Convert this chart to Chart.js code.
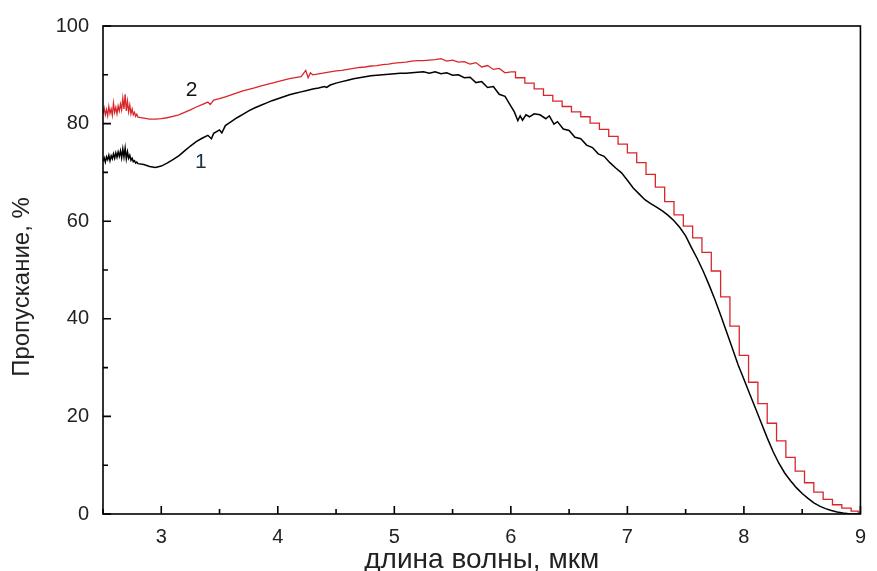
<!DOCTYPE html>
<html>
<head>
<meta charset="utf-8">
<script src="https://cdn.jsdelivr.net/npm/chart.js@4.4.1/dist/chart.umd.min.js"></script>
<style>
  html, body { margin: 0; padding: 0; background: #fff; }
</style>
</head>
<body>
<canvas id="canvas" width="877" height="571"></canvas>
<script>
// кривая 1 (чёрная): длина волны, мкм
var wave1 = [2.50,2.51,2.52,2.53,2.54,2.55,2.56,2.57,2.58,2.59,2.60,2.61,2.62,2.63,2.64,2.65,2.66,2.67,2.68,2.69,2.70,2.71,2.72,2.73,2.74,2.75,2.76,2.77,2.78,2.79,2.80,
  2.85,2.90,2.95,3.00,3.05,3.10,3.15,3.20,3.25,3.30,3.35,3.40,3.43,3.45,3.50,3.52,
  3.55,3.60,3.65,3.70,3.75,3.80,3.85,3.90,3.95,4.00,4.05,4.10,4.15,4.20,4.25,4.30,4.35,4.40,4.42,
  4.45,4.50,4.55,4.60,4.65,4.70,4.75,4.80,4.85,4.90,4.95,5.00,5.05,5.10,5.15,5.20,5.25,5.30,5.35,5.40,5.45,
  5.50,5.55,5.60,5.65,5.70,5.75,5.80,5.85,5.90,5.95,6.00,6.03,6.06,6.08,6.10,6.13,6.16,6.20,6.25,6.30,6.33,6.37,6.40,
  6.45,6.50,6.55,6.60,6.65,6.70,6.75,6.80,6.85,6.90,6.95,7.00,7.05,7.10,7.15,7.20,7.25,7.30,7.35,7.40,7.45,7.50,
  7.55,7.60,7.65,7.70,7.75,7.80,7.85,7.90,7.95,8.00,8.05,8.10,8.15,8.20,8.25,8.30,8.35,8.40,8.45,8.50,
  8.55,8.60,8.65,8.70,8.75,8.80,8.85,8.90,8.95,9.00];
// пропускание, %
var trans1 = [72.3,73.0,72.1,73.2,72.6,73.5,72.4,73.4,72.8,73.8,72.9,74.0,73.1,74.2,73.3,74.4,73.0,74.8,73.2,75.0,72.8,74.2,72.9,73.5,72.5,72.9,72.2,72.4,71.9,72.1,71.8,
  71.6,71.2,71.0,71.3,71.9,72.6,73.4,74.4,75.4,76.3,77.0,77.6,76.9,78.0,78.7,78.1,
  79.6,80.4,81.2,81.9,82.6,83.2,83.7,84.2,84.7,85.1,85.5,85.9,86.2,86.5,86.8,87.1,87.3,87.6,87.4,
  87.9,88.3,88.6,88.9,89.2,89.4,89.6,89.8,89.9,90.0,90.1,90.2,90.3,90.3,90.4,90.5,90.6,90.3,90.6,90.2,90.4,
  89.9,90.0,89.4,89.5,88.4,88.6,87.4,87.6,86.0,85.6,83.6,82.4,80.6,81.6,80.7,81.8,81.4,82.0,81.8,81.0,81.6,79.9,80.4,
  78.9,78.6,77.2,76.9,75.6,75.1,73.8,73.3,72.0,70.9,69.9,68.4,66.8,65.6,64.4,63.6,62.9,62.1,61.2,60.1,58.7,57.0,
  54.6,52.3,49.8,47.0,44.0,40.8,37.4,34.0,30.6,27.6,24.6,21.6,18.6,15.6,12.8,10.4,8.4,6.8,5.4,4.2,
  3.2,2.3,1.6,1.1,0.7,0.4,0.2,0.05,0,0];

// кривая 2 (красная)
var wave2 = [2.50,2.51,2.52,2.53,2.54,2.55,2.56,2.57,2.58,2.59,2.60,2.61,2.62,2.63,2.64,2.65,2.66,2.67,2.68,2.69,2.70,2.71,2.72,2.73,2.74,2.75,2.76,2.77,2.78,2.79,2.80,
  2.85,2.90,2.95,3.00,3.05,3.10,3.15,3.20,3.25,3.30,3.35,3.40,3.42,
  3.45,3.50,3.55,3.60,3.65,3.70,3.75,3.80,3.85,3.90,3.95,4.00,4.05,4.10,4.15,4.20,4.24,4.26,4.28,
  4.30,4.35,4.40,4.45,4.50,4.55,4.60,4.65,4.70,4.75,4.80,4.85,4.90,4.95,5.00,
  5.05,5.10,5.15,5.20,5.25,5.30,5.35,5.40,5.45,5.50,5.55,5.60,5.65,5.70,5.75,5.80,5.85,5.90,5.95,6.00,
  6.08,6.16,6.24,6.32,6.40,6.48,6.56,6.64,6.72,6.80,6.88,6.96,7.04,7.12,7.20,7.28,7.36,7.44,7.52,7.60,
  7.68,7.76,7.84,7.92,8.00,8.08,8.16,8.24,8.32,8.40,8.48,8.56,8.64,8.72,8.80,8.88,8.96,9.00];
var trans2 = [82.0,83.2,81.8,82.9,81.6,83.5,82.1,83.0,81.7,84.2,82.3,83.3,82.0,83.6,82.6,84.0,82.8,85.2,83.0,86.0,82.6,84.6,82.4,83.8,82.0,83.0,81.8,82.3,81.5,81.9,81.3,
  81.1,80.9,80.9,81.0,81.2,81.5,81.8,82.3,82.8,83.4,83.9,84.4,83.9,
  84.8,85.1,85.5,85.9,86.3,86.7,87.0,87.3,87.7,88.0,88.3,88.6,88.9,89.2,89.4,89.6,90.9,89.4,90.4,
  90.0,90.2,90.4,90.6,90.8,90.9,91.1,91.3,91.5,91.6,91.8,91.9,92.1,92.2,92.4,
  92.5,92.6,92.8,92.9,92.9,93.0,93.1,93.3,92.8,93.0,92.6,92.7,92.2,92.5,91.6,91.9,91.1,91.3,90.4,90.6,
  89.4,88.3,87.1,85.8,84.6,83.5,82.4,81.4,80.1,78.8,77.4,75.8,74.0,72.0,69.6,67.0,64.0,61.3,59.0,56.6,
  53.6,49.8,44.5,38.5,32.5,27.0,22.6,18.6,15.0,11.6,8.8,6.4,4.5,3.0,1.9,1.2,0.6,0.4];

// со скольки мкм у красной кривой идёт "лесенка"
var stepFrom = 6.0;

// подписи кривых
var curveLabels = [
  { text: '2', x: 3.26, y: 86.8, color: '#111' },
  { text: '1', x: 3.34, y: 72.1, color: '#1d3040' }
];
var yTitle = 'Пропускание, %';

var fontFamily = '"Liberation Sans", Arial, sans-serif';

function toPoints(xs, ys, from, to) {
  var pts = [];
  for (var i = 0; i < xs.length; i++) {
    if (xs[i] >= from && xs[i] <= to) pts.push({ x: xs[i], y: ys[i] });
  }
  return pts;
}

// рамка, внутренние засечки, подпись оси Y и номера кривых
var frameTicks = {
  id: 'frameTicks',
  afterDatasetsDraw: function (chart) {
    var ctx = chart.ctx, a = chart.chartArea;
    var xs = chart.scales.x, ys = chart.scales.y;
    ctx.save();
    ctx.strokeStyle = '#000';
    ctx.lineWidth = 1.6;
    ctx.strokeRect(a.left, a.top, a.right - a.left, a.bottom - a.top);
    ctx.beginPath();
    xs.ticks.forEach(function (t) {
      var px = xs.getPixelForValue(t.value);
      var len = t.label ? 8 : 5;
      ctx.moveTo(px, a.bottom);
      ctx.lineTo(px, a.bottom - len);
    });
    ys.ticks.forEach(function (t) {
      var py = ys.getPixelForValue(t.value);
      var len = t.label !== '' ? 8 : 5;
      ctx.moveTo(a.left, py);
      ctx.lineTo(a.left + len, py);
    });
    ctx.stroke();

    ctx.font = '21px ' + fontFamily;
    ctx.textAlign = 'center';
    ctx.textBaseline = 'middle';
    curveLabels.forEach(function (l) {
      ctx.fillStyle = l.color;
      ctx.fillText(l.text, xs.getPixelForValue(l.x), ys.getPixelForValue(l.y));
    });

    // подпись оси Y (в оригинале сдвинута чуть ниже центра)
    ctx.font = '24px ' + fontFamily;
    ctx.fillStyle = '#222';
    ctx.translate(22, (a.top + a.bottom) / 2 + 17);
    ctx.rotate(-Math.PI / 2);
    ctx.fillText(yTitle, 0, 0);
    ctx.restore();
  }
};

var config = {
  type: 'line',
  data: {
    datasets: [{
      label: '2',
      data: toPoints(wave2, trans2, 0, stepFrom),
      borderColor: '#d8262b',
      borderWidth: 1.3,
      pointRadius: 0,
      fill: false
    }, {
      label: '2 (лесенка)',
      data: toPoints(wave2, trans2, stepFrom, 99),
      borderColor: '#d8262b',
      borderWidth: 1.3,
      stepped: 'middle',
      pointRadius: 0,
      fill: false
    }, {
      label: '1',
      data: toPoints(wave1, trans1, 0, 99),
      borderColor: '#000',
      borderWidth: 1.5,
      pointRadius: 0,
      fill: false
    }]
  },
  options: {
    responsive: false,
    animation: false,
    layout: { padding: { left: 0, right: 8, top: 23, bottom: 0 } },
    plugins: { legend: { display: false }, tooltip: { enabled: false } },
    scales: {
      x: {
        type: 'linear',
        min: 2.5, max: 9,
        grid: { display: false, drawTicks: false },
        border: { display: false },
        ticks: {
          stepSize: 0.5,
          autoSkip: false,
          maxRotation: 0,
          padding: 11,
          color: '#222',
          font: { family: fontFamily, size: 20 },
          callback: function (v) {
            var r = Math.round(v * 100) / 100;
            return Number.isInteger(r) ? String(r) : '';
          }
        },
        title: {
          display: true,
          text: 'длина волны, мкм',
          color: '#222',
          font: { family: fontFamily, size: 28, lineHeight: 0.8 },
          padding: 0
        },
        afterFit: function (s) { s.height = 57; }
      },
      y: {
        min: 0, max: 100,
        grid: { display: false, drawTicks: false },
        border: { display: false },
        ticks: {
          stepSize: 10,
          padding: 14,
          color: '#222',
          font: { family: fontFamily, size: 20 },
          callback: function (v) { return v % 20 === 0 ? String(v) : ''; }
        },
        afterFit: function (s) { s.width = 103; }
      }
    }
  },
  plugins: [frameTicks]
};

var ctx = document.getElementById('canvas').getContext('2d');
window.myLine = new Chart(ctx, config);
</script>
</body>
</html>
